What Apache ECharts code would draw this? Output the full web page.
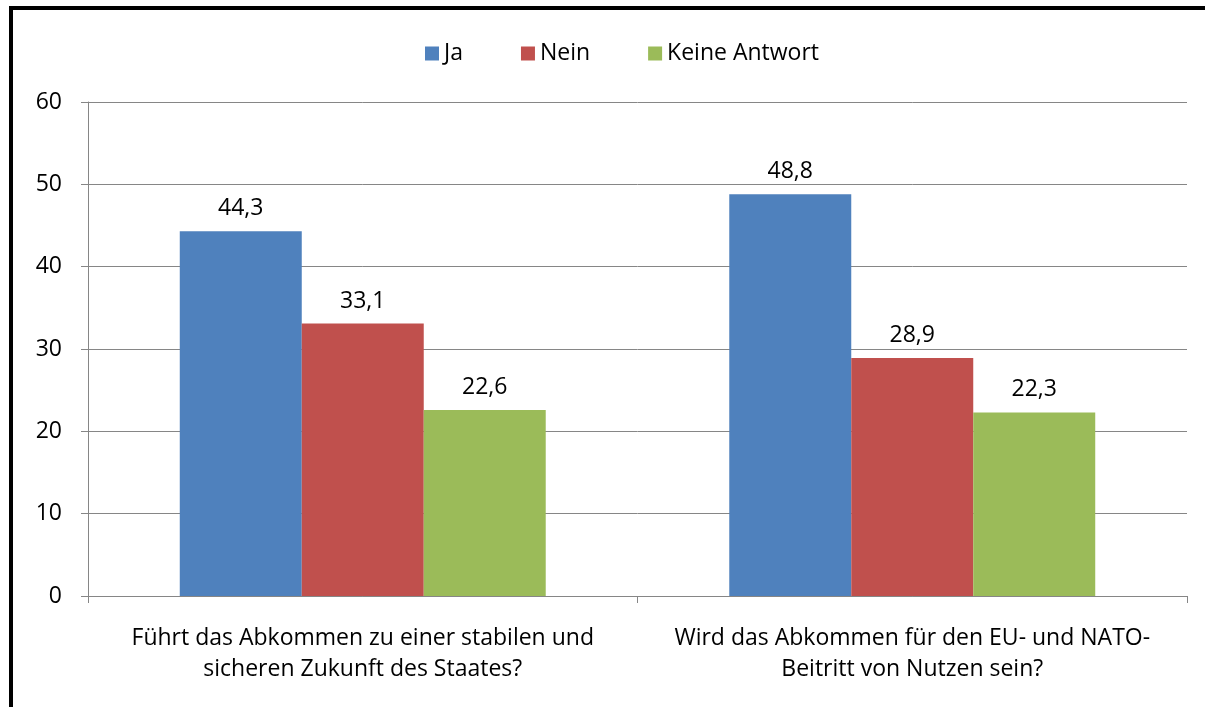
<!DOCTYPE html>
<html>
<head>
<meta charset="utf-8">
<script src="https://cdn.jsdelivr.net/npm/echarts@6/dist/echarts.min.js"></script>
<style>
  html, body { margin: 0; padding: 0; background: #fff; }
  #chart { width: 1205px; height: 707px; }
</style>
</head>
<body>
<div id="chart"></div>
<script>
const categories = [
  'Führt das Abkommen zu einer stabilen und\nsicheren Zukunft des Staates?',
  'Wird das Abkommen für den EU- und NATO-\nBeitritt von Nutzen sein?'
]
const ja = [44.3, 48.8]
const nein = [33.1, 28.9]
const keineAntwort = [22.6, 22.3]
const seriesNames = ['Ja', 'Nein', 'Keine Antwort']
const colors = ['#4F81BD', '#C0504D', '#9BBB59']

const font = '"Open Sans", "Noto Sans", sans-serif'
const axisGray = '#868686'

const chart = echarts.init(document.getElementById('chart'))

const fmt = (p) => p.value.toFixed(1).replace('.', ',')

const barSeries = [ja, nein, keineAntwort].map((data, i) => ({
  name: seriesNames[i],
  type: 'bar',
  data,
  barGap: '0%',
  barCategoryGap: '33.4%',
  itemStyle: { color: colors[i] },
  label: {
    show: true,
    position: 'top',
    distance: 11,
    formatter: fmt,
    color: '#000',
    fontSize: 23,
    fontFamily: font,
  },
}))

chart.setOption({
  animation: false,
  backgroundColor: '#fff',
  color: colors,
  legend: {
    top: 37,
    left: 420,
    itemWidth: 14,
    itemHeight: 14,
    itemGap: 58,
    icon: 'rect',
    textStyle: { fontSize: 23, fontFamily: font, color: '#000' },
    data: seriesNames,
  },
  grid: { left: 88, right: 18, top: 102, bottom: 111 },
  xAxis: {
    type: 'category',
    data: categories,
    axisLine: { lineStyle: { color: axisGray } },
    axisTick: { show: true, length: 7, lineStyle: { color: axisGray } },
    axisLabel: {
      margin: 27,
      fontSize: 23,
      lineHeight: 31,
      color: '#000',
      fontFamily: font,
      interval: 0,
    },
  },
  yAxis: {
    type: 'value',
    min: 0,
    max: 60,
    interval: 10,
    axisLine: { show: true, lineStyle: { color: axisGray } },
    axisTick: { show: true, length: 7, lineStyle: { color: axisGray } },
    splitLine: { lineStyle: { color: axisGray } },
    axisLabel: {
      margin: 26,
      fontSize: 23,
      color: '#000',
      fontFamily: font,
    },
  },
  series: barSeries,
  graphic: [
    {
      type: 'rect',
      silent: true,
      shape: { x: 11, y: 8, width: 1400, height: 900 },
      style: { fill: null, stroke: '#000', lineWidth: 4 },
    },
  ],
})
</script>
</body>
</html>
